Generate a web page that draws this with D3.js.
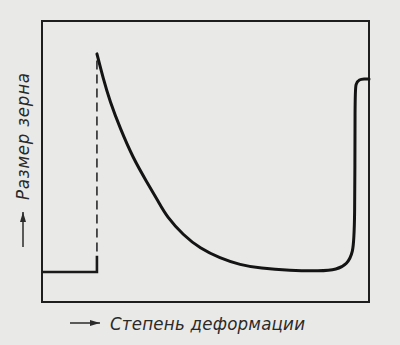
<!DOCTYPE html>
<meta charset="utf-8">
<style>
body { margin: 0; background: #e9e9e7; }
svg { display: block; }
.lbl {
  font-family: "DejaVu Sans Condensed", "DejaVu Sans", sans-serif;
  font-style: italic;
  font-size: 18.5px;
  fill: #2a2a2a;
}
</style>
<svg id="chart"></svg>
<script src="https://d3js.org/d3.v7.min.js"></script>
<script>
// deformation (%) vs grain size (relative units)
const lowDeform = [0, 16.8, 16.8];
const lowGrain = [10.7, 10.7, 16.5];

const critDeform = [16.8, 16.8];
const critGrain = [18.0, 88.3];

const deform = [16.8, 18.7, 20.8, 23.9, 27.9, 32.0, 35.6, 38.1, 43.2, 48.3, 54.4, 60.6, 66.7, 75.8, 85.0, 90.2, 93.3, 95.1, 95.7, 95.7, 95.9, 97.0, 98.5, 100];
const grain = [88.3, 79.6, 71.3, 61.8, 51.1, 42.8, 35.7, 30.4, 23.8, 19.1, 15.6, 13.2, 12.0, 11.2, 11.0, 11.5, 13.5, 17.4, 25.6, 73.7, 77.8, 79.2, 79.4, 79.4];

const yLabel = "Размер зерна";
const xLabel = "Степень деформации";

let svg = d3.select("#chart").attr("width", 400).attr("height", 345);

let margin = {top: 21, right: 31, bottom: 43, left: 42},
  width = 400 - margin.left - margin.right,
  height = 345 - margin.top - margin.bottom;

let x = d3.scaleLinear().domain([0, 100]).range([0, width]);
let y = d3.scaleLinear().domain([0, 100]).range([height, 0]);

let g = svg.append("g")
  .attr("transform", "translate(" + margin.left + "," + margin.top + ")");

// frame
g.append("rect")
  .attr("width", width).attr("height", height)
  .attr("fill", "none").attr("stroke", "#1e1e1e").attr("stroke-width", 2);

let line = d3.line()
  .x(d => x(d[0]))
  .y(d => y(d[1]));

g.append("path")
  .datum(d3.zip(lowDeform, lowGrain))
  .attr("d", line)
  .attr("fill", "none").attr("stroke", "#1a1a1a").attr("stroke-width", 2.6);

g.append("path")
  .datum(d3.zip(critDeform, critGrain))
  .attr("d", line)
  .attr("fill", "none").attr("stroke", "#2a2a2a").attr("stroke-width", 1.6)
  .attr("stroke-dasharray", "9,5");

g.append("path")
  .datum(d3.zip(deform, grain))
  .attr("d", line.curve(d3.curveBasis))
  .attr("fill", "none").attr("stroke", "#141414").attr("stroke-width", 3)
  .attr("stroke-linecap", "round");

// arrows
svg.append("defs").append("marker")
  .attr("id", "arr").attr("viewBox", "0 0 10 6")
  .attr("refX", 10).attr("refY", 3)
  .attr("markerWidth", 10).attr("markerHeight", 6)
  .attr("markerUnits", "userSpaceOnUse")
  .attr("orient", "auto")
  .append("path").attr("d", "M0,0L10,3L0,6Z").attr("fill", "#2a2a2a");

svg.append("line")
  .attr("x1", 70).attr("y1", 323).attr("x2", 100).attr("y2", 323)
  .attr("stroke", "#2a2a2a").attr("stroke-width", 1.5)
  .attr("marker-end", "url(#arr)");

svg.append("line")
  .attr("x1", 23).attr("y1", 247).attr("x2", 23).attr("y2", 212)
  .attr("stroke", "#2a2a2a").attr("stroke-width", 1.5)
  .attr("marker-end", "url(#arr)");

svg.append("text")
  .attr("class", "lbl")
  .attr("x", 110).attr("y", 330)
  .attr("textLength", 195)
  .text(xLabel);

svg.append("text")
  .attr("class", "lbl")
  .attr("transform", "translate(29,200) rotate(-90)")
  .attr("textLength", 127)
  .text(yLabel);
</script>
